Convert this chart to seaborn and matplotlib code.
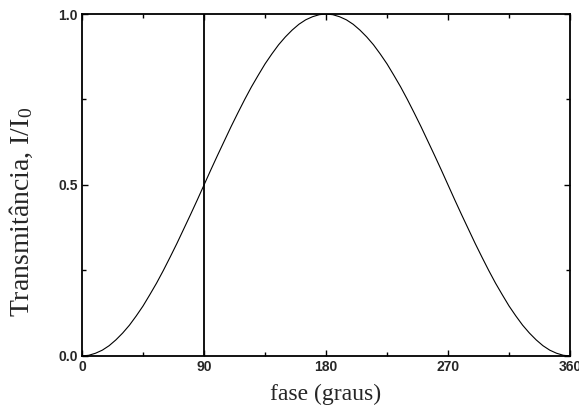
import matplotlib
matplotlib.use("Agg")
import matplotlib.pyplot as plt
import seaborn as sns
import pandas as pd
from matplotlib.ticker import MultipleLocator

# phase (degrees) and normalised transmittance I/I0
fase = list(range(0, 361, 5))
transmitancia = [
    0.000, 0.002, 0.008, 0.017, 0.030, 0.047, 0.067, 0.090, 0.117, 0.146,
    0.179, 0.213, 0.250, 0.289, 0.329, 0.371, 0.413, 0.456, 0.500, 0.544,
    0.587, 0.629, 0.671, 0.711, 0.750, 0.787, 0.821, 0.854, 0.883, 0.910,
    0.933, 0.953, 0.970, 0.983, 0.992, 0.998, 1.000, 0.998, 0.992, 0.983,
    0.970, 0.953, 0.933, 0.910, 0.883, 0.854, 0.821, 0.787, 0.750, 0.711,
    0.671, 0.629, 0.587, 0.544, 0.500, 0.456, 0.413, 0.371, 0.329, 0.289,
    0.250, 0.213, 0.179, 0.146, 0.117, 0.090, 0.067, 0.047, 0.030, 0.017,
    0.008, 0.002, 0.000,
]
marca_fase = 90
x_ticks = [0, 90, 180, 270, 360]
y_ticks = [0.0, 0.5, 1.0]

sns.set_style("ticks")
plt.rcParams["font.family"] = ["Liberation Serif", "DejaVu Serif"]
plt.rcParams["mathtext.fontset"] = "custom"
plt.rcParams["mathtext.rm"] = "Liberation Serif"
plt.rcParams["mathtext.it"] = "Liberation Serif:italic"

df = pd.DataFrame({"fase": fase, "T": transmitancia})

fig = plt.figure(figsize=(5.79, 4.12), dpi=100)
ax = fig.add_axes([0.1416, 0.136, 0.843, 0.830])

sns.lineplot(data=df, x="fase", y="T", ax=ax, color="black", linewidth=0.8)
ax.plot([marca_fase, marca_fase], [0, 1], color="black", linewidth=1.3)

ax.set_xlim(0, 360)
ax.set_ylim(0, 1)
ax.set_xticks(x_ticks)
ax.set_yticks(y_ticks)
ax.set_xticklabels([str(v) for v in x_ticks])
ax.set_yticklabels([f"{v:.1f}" for v in y_ticks])
ax.xaxis.set_minor_locator(MultipleLocator(45))
ax.yaxis.set_minor_locator(MultipleLocator(0.25))

ax.tick_params(which="both", direction="in", top=True, right=True,
               color="black", width=1.0)
ax.tick_params(which="major", length=4, pad=3)
ax.tick_params(which="minor", length=3)
for lab in ax.get_xticklabels() + ax.get_yticklabels():
    lab.set_fontfamily(["Liberation Sans", "DejaVu Sans"])
    lab.set_fontweight("bold")
    lab.set_fontsize(10)

for sp in ax.spines.values():
    sp.set_color("black")
    sp.set_linewidth(1.3)

ax.set_xlabel("fase (graus)", fontsize=17)
ax.xaxis.set_label_coords(0.5, -0.08)
ax.set_ylabel(r"Transmitância, I/I$_\mathrm{0}$", fontsize=20)
ax.yaxis.set_label_coords(-0.097, 0.42)

fig.savefig("out.png", dpi=100)
